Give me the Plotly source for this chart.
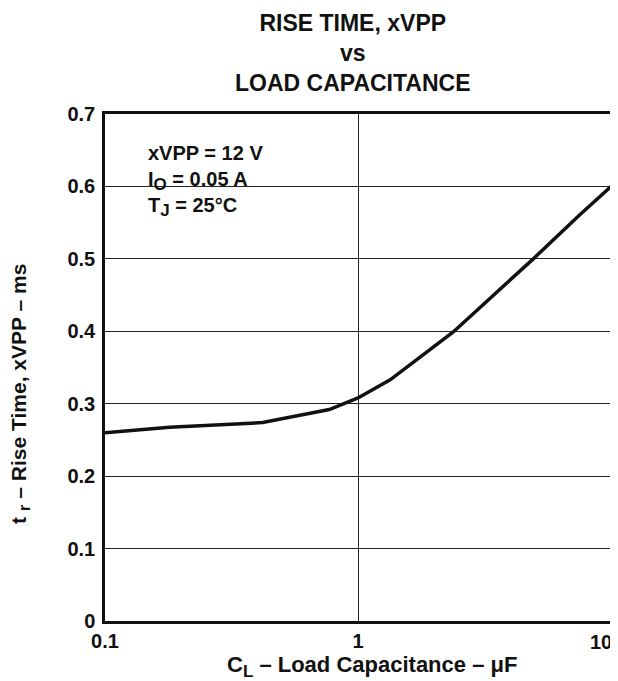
import plotly.graph_objects as go

# Data
cap_uF = [0.1, 0.18, 0.42, 0.56, 0.77, 1.0, 1.34, 2.38, 4.93, 7.53, 10.0]
rise_ms = [0.260, 0.2675, 0.274, 0.283, 0.292, 0.308, 0.333, 0.399, 0.500, 0.561, 0.600]

x_ticks = [0.1, 1, 10]
x_tick_text = ["0.1", "1", ""]
x_last_label = "10"  # drawn inside the page edge, as in the reference
y_ticks = [0, 0.1, 0.2, 0.3, 0.4, 0.5, 0.6, 0.7]
y_tick_text = ["0", "0.1", "0.2", "0.3", "0.4", "0.5", "0.6", "0.7"]

SUB = '<sub><span style="font-size:17px">{}</span></sub>'
title_text = "RISE TIME, xVPP<br>vs<br>LOAD CAPACITANCE"
x_title = "C" + SUB.format("L") + " – Load Capacitance – μF"
y_title = "t " + SUB.format("r") + " – Rise Time, xVPP – ms"
cond_text = ("xVPP = 12 V<br>I" + SUB.format("O") + " = 0.05 A<br>T"
             + SUB.format("J") + " = 25°C")

FONT = "Liberation Sans, Arial, Helvetica, sans-serif"
OFF = 8  # page body margin
W, H = 618 - OFF, 681 - OFF
L, T = 105 - OFF, 114 - OFF
R, B = 618 - 611, 681 - 621
PW, PH = W - L - R, H - T - B


def px(xs):
    return (xs - OFF - L) / PW


def py(ys):
    return (H - B - (ys - OFF)) / PH


fig = go.Figure()
fig.add_trace(go.Scatter(x=cap_uF, y=rise_ms, mode="lines",
                         line=dict(color="#111111", width=3.5),
                         showlegend=False, hoverinfo="x+y"))

fig.update_layout(
    width=W, height=H,
    margin=dict(l=L, r=R, t=T, b=B, autoexpand=False),
    paper_bgcolor="white", plot_bgcolor="white",
    font=dict(family=FONT, color="#111111", size=19, weight="bold"),
    xaxis=dict(type="log", range=[-1, 1], tickvals=x_ticks, ticktext=x_tick_text,
               showgrid=True, gridcolor="#222222", gridwidth=1,
               showline=True, linecolor="#111111", linewidth=2.5, mirror=True,
               ticks="", zeroline=False, ticklabelstandoff=0, automargin=False,
               tickfont=dict(family=FONT, size=20, color="#111111", weight="bold")),
    yaxis=dict(range=[0, 0.7], tickvals=y_ticks, ticktext=y_tick_text,
               showgrid=True, gridcolor="#222222", gridwidth=1,
               showline=True, linecolor="#111111", linewidth=2.5, mirror=True,
               ticks="", zeroline=False, ticklabelstandoff=3, automargin=False,
               tickfont=dict(family=FONT, size=20, color="#111111", weight="bold")),
)

# last x tick label, kept inside the page
fig.add_annotation(text=x_last_label, xref="paper", yref="paper",
                   x=px(614), y=py(642), xanchor="right", yanchor="middle",
                   showarrow=False,
                   font=dict(family=FONT, size=20, color="#111111", weight="bold"))

# chart title
fig.add_annotation(text=title_text, xref="paper", yref="paper",
                   x=px(353), y=py(8), xanchor="center", yanchor="top",
                   showarrow=False,
                   font=dict(family=FONT, size=23, color="#111111", weight="bold"))

# white box interrupting the 0.6 gridline behind the condition text
fig.add_shape(type="rect", xref="paper", yref="paper", layer="between",
              x0=px(132), x1=px(293), y0=py(196), y1=py(140),
              fillcolor="white", line=dict(width=0))

fig.add_annotation(text=cond_text, xref="paper", yref="paper",
                   x=px(146), y=py(181), xanchor="left", yanchor="middle",
                   align="left", showarrow=False,
                   font=dict(family=FONT, size=20, color="#111111", weight="bold"))

# axis titles
fig.add_annotation(text=x_title, xref="paper", yref="paper",
                   x=px(372), y=py(666), xanchor="center", yanchor="middle",
                   showarrow=False,
                   font=dict(family=FONT, size=22, color="#111111", weight="bold"))
fig.add_annotation(text=y_title, xref="paper", yref="paper", textangle=-90,
                   x=px(21), y=py(394), xanchor="center", yanchor="middle",
                   showarrow=False,
                   font=dict(family=FONT, size=21, color="#111111", weight="bold"))

fig.write_html("out.html")
